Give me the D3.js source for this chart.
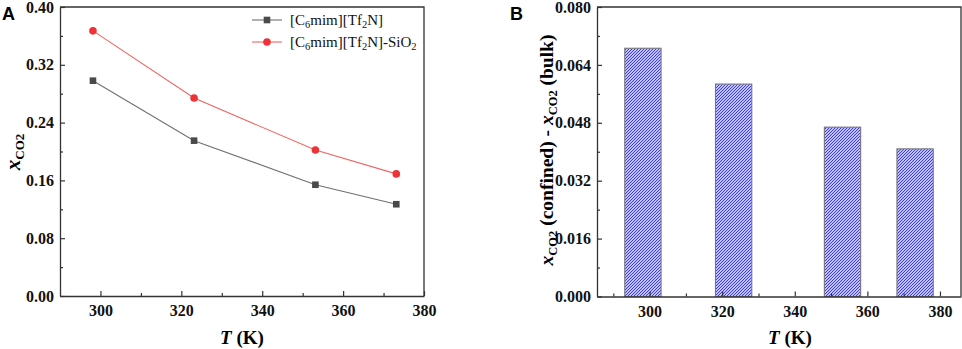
<!DOCTYPE html>
<html>
<head>
<meta charset="utf-8">
<script src="https://cdn.jsdelivr.net/npm/d3@7"></script>
<style>
  body { margin: 0; background: #fff; }
  svg { display: block; }
  text { font-family: "Liberation Serif", "Times New Roman", serif; }
</style>
</head>
<body>
<div id="chart"></div>
<script>
// Temperatures (K) and CO2 mole fractions
const temps = [298.15, 323.15, 353.15, 373.15];
const bulk = [0.298, 0.215, 0.154, 0.127];
const confined = [0.367, 0.274, 0.202, 0.169];
const diff = [0.0686, 0.0587, 0.0468, 0.0408];
const xTicks = [300, 320, 340, 360, 380];
const yTicksA = [0, 0.08, 0.16, 0.24, 0.32, 0.40];
const yTicksB = [0, 0.016, 0.032, 0.048, 0.064, 0.080];
const barWidthK = 10;

const W = 962, H = 349;
const axisColor = "#333";

const svg = d3.select("#chart").append("svg")
    .attr("width", W)
    .attr("height", H);

// hatch pattern for bars
const defs = svg.append("defs");
const ps = 3;
const pat = defs.append("pattern")
    .attr("id", "hatch")
    .attr("patternUnits", "userSpaceOnUse")
    .attr("width", ps)
    .attr("height", ps);
pat.append("rect").attr("width", ps).attr("height", ps).attr("fill", "#fff");
pat.append("path")
    .attr("d", `M-1,1 L1,-1 M0,${ps} L${ps},0 M${ps - 1},${ps + 1} L${ps + 1},${ps - 1}`)
    .attr("stroke", "#2d2dff")
    .attr("stroke-width", 1.1);

function drawAxes(g, x, y, yTicks, yFmt, yMinor, xMinor) {
    const [x0, x1] = x.range();
    const [y0, y1] = y.range();

    // frame (top + right)
    g.append("path")
        .attr("d", `M${x0},${y1} H${x1} V${y0}`)
        .attr("fill", "none")
        .attr("stroke", axisColor)
        .attr("stroke-width", 1.3);

    g.append("g")
        .attr("transform", `translate(0,${y0})`)
        .call(d3.axisBottom(x).tickValues(xTicks).tickSizeInner(-5).tickSizeOuter(0).tickPadding(9).tickFormat(d3.format("d")));
    g.append("g")
        .attr("transform", `translate(0,${y0})`)
        .call(d3.axisBottom(x).tickValues(xMinor).tickSizeInner(-3).tickSizeOuter(0).tickFormat(""))
        .select(".domain").remove();

    g.append("g")
        .attr("transform", `translate(${x0},0)`)
        .call(d3.axisLeft(y).tickValues(yTicks).tickSizeInner(-5).tickSizeOuter(0).tickPadding(6).tickFormat(yFmt));
    g.append("g")
        .attr("transform", `translate(${x0},0)`)
        .call(d3.axisLeft(y).tickValues(yMinor).tickSizeInner(-3).tickSizeOuter(0).tickFormat(""))
        .select(".domain").remove();

    g.selectAll(".domain").attr("stroke", axisColor).attr("stroke-width", 1.3);
    g.selectAll(".tick line").attr("stroke", axisColor).attr("stroke-width", 1.2);
    g.selectAll(".tick text")
        .attr("fill", "#111")
        .style("font-family", "'Liberation Serif', serif")
        .style("font-weight", "bold")
        .style("font-size", "16px");
}

// ---------- Panel A ----------
const gA = svg.append("g");
const xA = d3.scaleLinear().domain([290, 380]).range([60, 424]);
const yA = d3.scaleLinear().domain([0, 0.40]).range([296, 7]);

drawAxes(gA, xA, yA, yTicksA, d3.format(".2f"),
    [0.04, 0.12, 0.20, 0.28, 0.36], [310, 330, 350, 370]);

const line = d3.line().x((d, i) => xA(temps[i])).y(d => yA(d));

gA.append("path").datum(bulk)
    .attr("d", line).attr("fill", "none")
    .attr("stroke", "#707070").attr("stroke-width", 1.1);
gA.append("path").datum(confined)
    .attr("d", line).attr("fill", "none")
    .attr("stroke", "#f26464").attr("stroke-width", 1.1);

gA.selectAll(".sq").data(bulk).join("rect")
    .attr("x", (d, i) => xA(temps[i]) - 3.3)
    .attr("y", d => yA(d) - 3.3)
    .attr("width", 6.6).attr("height", 6.6)
    .attr("fill", "#4a4a4a");
gA.selectAll(".ci").data(confined).join("circle")
    .attr("cx", (d, i) => xA(temps[i]))
    .attr("cy", d => yA(d))
    .attr("r", 3.8)
    .attr("fill", "#ee3236");

// legend
const leg = gA.append("g").attr("transform", "translate(252,0)");
const legItems = [
    { color: "#707070", mark: "sq", y: 20, parts: [["[C", 0], ["6", 1], ["mim][Tf", 0], ["2", 1], ["N]", 0]] },
    { color: "#f26464", mark: "ci", y: 42, parts: [["[C", 0], ["6", 1], ["mim][Tf", 0], ["2", 1], ["N]-SiO", 0], ["2", 1]] }
];
legItems.forEach(it => {
    leg.append("line")
        .attr("x1", 0).attr("x2", 30)
        .attr("y1", it.y).attr("y2", it.y)
        .attr("stroke", it.color).attr("stroke-width", 1.1);
    if (it.mark === "sq") {
        leg.append("rect").attr("x", 15 - 3.3).attr("y", it.y - 3.3)
            .attr("width", 6.6).attr("height", 6.6).attr("fill", "#4a4a4a");
    } else {
        leg.append("circle").attr("cx", 15).attr("cy", it.y).attr("r", 3.8).attr("fill", "#ee3236");
    }
    const t = leg.append("text")
        .attr("x", 38).attr("y", it.y + 5)
        .style("font-size", "15px")
        .attr("fill", "#111");
    let sub = false;
    it.parts.forEach(([s, isSub]) => {
        const ts = t.append("tspan").text(s);
        if (isSub && !sub) { ts.attr("dy", 3).style("font-size", "10.5px"); sub = true; }
        else if (!isSub && sub) { ts.attr("dy", -3); sub = false; }
        else if (isSub) ts.style("font-size", "10.5px");
    });
});

// axis labels A
gA.append("text")
    .attr("x", 242).attr("y", 344)
    .attr("text-anchor", "middle")
    .style("font-size", "19px").style("font-weight", "bold")
    .call(t => {
        t.append("tspan").style("font-style", "italic").text("T");
        t.append("tspan").text(" (K)");
    });

gA.append("text")
    .attr("transform", "translate(20,152) rotate(-90)")
    .attr("text-anchor", "middle")
    .style("font-size", "21px").style("font-weight", "bold")
    .call(t => {
        t.append("tspan").style("font-style", "italic").text("x");
        t.append("tspan").attr("dy", 4).style("font-size", "13px").text("CO2");
    });

svg.append("text")
    .attr("x", 2).attr("y", 20)
    .style("font-family", "'Liberation Sans', Arial, sans-serif")
    .style("font-size", "18px").style("font-weight", "bold")
    .text("A");

// ---------- Panel B ----------
const gB = svg.append("g");
const xB = d3.scaleLinear().domain([285.5, 385.8]).range([597, 961]);
const yB = d3.scaleLinear().domain([0, 0.08]).range([296.5, 7]);

gB.selectAll(".bar").data(diff).join("rect")
    .attr("x", (d, i) => xB(temps[i] - barWidthK / 2))
    .attr("y", d => yB(d))
    .attr("width", (d, i) => xB(temps[i] + barWidthK / 2) - xB(temps[i] - barWidthK / 2))
    .attr("height", d => yB(0) - yB(d))
    .attr("fill", "url(#hatch)")
    .attr("stroke", "#777")
    .attr("stroke-width", 1.1);

drawAxes(gB, xB, yB, yTicksB, d3.format(".3f"),
    [0.008, 0.024, 0.040, 0.056, 0.072], [290, 310, 330, 350, 370]);

gB.append("text")
    .attr("x", 790).attr("y", 344)
    .attr("text-anchor", "middle")
    .style("font-size", "19px").style("font-weight", "bold")
    .call(t => {
        t.append("tspan").style("font-style", "italic").text("T");
        t.append("tspan").text(" (K)");
    });

gB.append("text")
    .attr("transform", "translate(553,150) rotate(-90)")
    .attr("text-anchor", "middle")
    .style("font-size", "19.5px").style("font-weight", "bold")
    .call(t => {
        t.append("tspan").style("font-style", "italic").text("x");
        t.append("tspan").attr("dy", 4).style("font-size", "12.5px").text("CO2");
        t.append("tspan").attr("dy", -4).text(" (confined) - ");
        t.append("tspan").style("font-style", "italic").text("x");
        t.append("tspan").attr("dy", 4).style("font-size", "12.5px").text("CO2");
        t.append("tspan").attr("dy", -4).text(" (bulk)");
    });

svg.append("text")
    .attr("x", 510).attr("y", 20)
    .style("font-family", "'Liberation Sans', Arial, sans-serif")
    .style("font-size", "18px").style("font-weight", "bold")
    .text("B");
</script>
</body>
</html>
